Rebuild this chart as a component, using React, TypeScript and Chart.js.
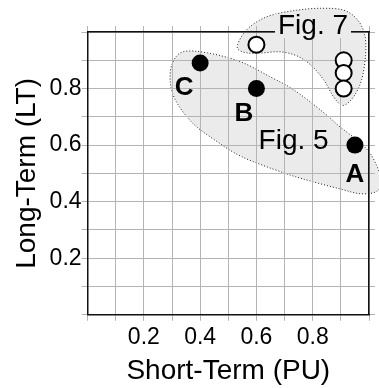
import { useEffect, useRef } from 'react';
import { Chart, registerables } from 'chart.js';

Chart.register(...registerables);

// ---- data ----
const fig5X = [0.95, 0.6, 0.4];
const fig5Y = [0.6, 0.8, 0.89];
const fig7X = [0.6, 0.91, 0.91, 0.91];
const fig7Y = [0.955, 0.9, 0.855, 0.8];

const tickLabels = ['0.2', '0.4', '0.6', '0.8'];
const xTitle = 'Short-Term (PU)';
const yTitle = 'Long-Term (LT)';

const pointLabels = ['A', 'B', 'C'];
const pointLabelX = [0.95, 0.555, 0.343];
const pointLabelY = [0.495, 0.709, 0.803];

const groupNames = ['Fig. 5', 'Fig. 7'];
const groupLabelX = [0.732, 0.801];
const groupLabelY = [0.612, 1.021];

// outlines of the highlighted groups (data space)
const fig5RegionX = [1.041, 1.006, 0.953, 0.894, 0.838, 0.732, 0.648, 0.543, 0.427, 0.339, 0.301, 0.294, 0.315, 0.374, 0.452, 0.55, 0.697, 0.788, 0.894, 0.971, 1.031];
const fig5RegionY = [0.488, 0.568, 0.621, 0.667, 0.716, 0.796, 0.842, 0.895, 0.926, 0.93, 0.888, 0.821, 0.754, 0.677, 0.618, 0.558, 0.502, 0.474, 0.446, 0.428, 0.439];
const fig7RegionX = [0.532, 0.553, 0.595, 0.655, 0.743, 0.831, 0.911, 0.96, 0.985, 0.988, 0.974, 0.946, 0.908, 0.876, 0.838, 0.792, 0.743, 0.683, 0.62, 0.567];
const fig7RegionY = [0.944, 0.993, 1.032, 1.06, 1.077, 1.084, 1.077, 1.042, 0.989, 0.919, 0.832, 0.772, 0.74, 0.768, 0.832, 0.884, 0.916, 0.93, 0.926, 0.926];

const FONT = '"Liberation Sans", Arial, Helvetica, sans-serif';
const GRID = '#b4b4b4';
const REGION_FILL = '#ebebeb';

function drawClosedSpline(ctx: CanvasRenderingContext2D, pts: number[][]) {
  const n = pts.length;
  ctx.beginPath();
  ctx.moveTo(pts[0][0], pts[0][1]);
  for (let i = 0; i < n; i++) {
    const p0 = pts[(i - 1 + n) % n];
    const p1 = pts[i];
    const p2 = pts[(i + 1) % n];
    const p3 = pts[(i + 2) % n];
    ctx.bezierCurveTo(
      p1[0] + (p2[0] - p0[0]) / 6,
      p1[1] + (p2[1] - p0[1]) / 6,
      p2[0] - (p3[0] - p1[0]) / 6,
      p2[1] - (p3[1] - p1[1]) / 6,
      p2[0],
      p2[1]
    );
  }
  ctx.closePath();
}

const annotationPlugin = {
  id: 'annotations',
  beforeDraw(chart: any) {
    const { ctx, scales } = chart;
    const x = scales.x;
    const y = scales.y;
    const regions = [
      [fig5RegionX, fig5RegionY],
      [fig7RegionX, fig7RegionY],
    ];
    regions.forEach(([xs, ys]) => {
      const pts = xs.map((v: number, i: number) => [x.getPixelForValue(v), y.getPixelForValue(ys[i])]);
      ctx.save();
      drawClosedSpline(ctx, pts);
      ctx.fillStyle = REGION_FILL;
      ctx.fill();
      ctx.setLineDash([1, 2]);
      ctx.lineWidth = 1;
      ctx.strokeStyle = '#222';
      ctx.stroke();
      ctx.restore();
    });
  },
  afterDraw(chart: any) {
    const { ctx, scales } = chart;
    const x = scales.x;
    const y = scales.y;
    ctx.save();
    ctx.textAlign = 'center';
    ctx.textBaseline = 'middle';
    ctx.fillStyle = '#000';
    ctx.font = `bold 26px ${FONT}`;
    pointLabels.forEach((t, i) => {
      ctx.fillText(t, x.getPixelForValue(pointLabelX[i]), y.getPixelForValue(pointLabelY[i]));
    });
    ctx.font = `28px ${FONT}`;
    groupNames.forEach((t, i) => {
      const px = x.getPixelForValue(groupLabelX[i]);
      const py = y.getPixelForValue(groupLabelY[i]);
      if (i === 1) {
        const w = ctx.measureText(t).width;
        ctx.fillStyle = REGION_FILL;
        ctx.fillRect(px - w / 2 - 3, py - 12, w + 6, 24);
        ctx.fillStyle = '#000';
      }
      ctx.fillText(t, px, py);
    });
    ctx.restore();
  },
};

function tickCallback(v: any) {
  const s = (Math.round(Number(v) * 10) / 10).toFixed(1);
  return tickLabels.includes(s) ? s : '';
}

export default function App() {
  const ref = useRef<HTMLCanvasElement>(null);

  useEffect(() => {
    const canvas = ref.current;
    if (!canvas) return;
    const gridCommon = {
      color: GRID,
      lineWidth: 1,
      tickLength: 6,
      tickColor: GRID,
      drawTicks: true,
    };
    const borderCommon = { display: true, color: '#111', width: 1.5 };
    const chart = new Chart(canvas, {
      type: 'scatter',
      data: {
        datasets: [
          {
            data: fig5X.map((v, i) => ({ x: v, y: fig5Y[i] })),
            pointRadius: 8.5,
            pointHoverRadius: 8.5,
            backgroundColor: '#000',
            borderColor: '#000',
            borderWidth: 0,
            clip: false,
          },
          {
            data: fig7X.map((v, i) => ({ x: v, y: fig7Y[i] })),
            pointRadius: 8,
            pointHoverRadius: 8,
            backgroundColor: '#fff',
            borderColor: '#000',
            borderWidth: 2,
            clip: false,
          },
        ],
      },
      options: {
        responsive: false,
        animation: false,
        devicePixelRatio: 1,
        events: [],
        layout: { padding: { top: 26, right: 0, bottom: 0, left: 0 } },
        plugins: {
          legend: { display: false },
          tooltip: { enabled: false },
        },
        scales: {
          x: {
            type: 'linear',
            position: 'bottom',
            min: 0,
            max: 1,
            grid: gridCommon,
            border: borderCommon,
            ticks: {
              stepSize: 0.1,
              autoSkip: false,
              maxRotation: 0,
              minRotation: 0,
              padding: 3,
              color: '#000',
              font: { family: FONT, size: 23 },
              callback: tickCallback,
            },
            title: {
              display: true,
              text: xTitle,
              color: '#000',
              font: { family: FONT, size: 28 },
              padding: { top: 0, bottom: 0 },
            },
          },
          y: {
            type: 'linear',
            position: 'left',
            min: 0,
            max: 1,
            grid: gridCommon,
            border: borderCommon,
            ticks: {
              stepSize: 0.1,
              autoSkip: false,
              padding: 0,
              color: '#000',
              font: { family: FONT, size: 23 },
              callback: tickCallback,
            },
            title: {
              display: true,
              text: yTitle,
              color: '#000',
              font: { family: FONT, size: 28 },
              padding: { top: 10, bottom: 6 },
            },
          },
          x2: {
            type: 'linear',
            position: 'top',
            min: 0,
            max: 1,
            grid: { ...gridCommon, drawOnChartArea: false },
            border: borderCommon,
            ticks: { stepSize: 0.1, autoSkip: false, display: false },
          },
          y2: {
            type: 'linear',
            position: 'right',
            min: 0,
            max: 1,
            grid: { ...gridCommon, drawOnChartArea: false },
            border: borderCommon,
            ticks: { stepSize: 0.1, autoSkip: false, display: false },
          },
        },
      },
      plugins: [annotationPlugin],
    } as any);
    return () => chart.destroy();
  }, []);

  return (
    <div style={{ position: 'absolute', left: 0, top: 0, width: 379, height: 388 }}>
      <canvas ref={ref} width={379} height={388} style={{ display: 'block' }} />
    </div>
  );
}
